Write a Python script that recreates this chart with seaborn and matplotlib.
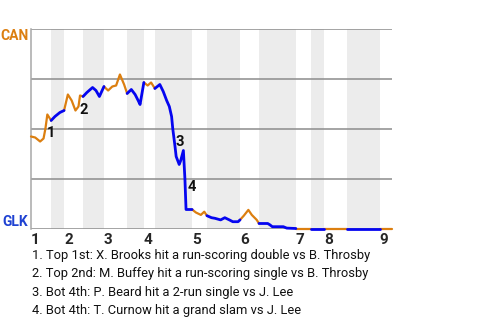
import matplotlib
matplotlib.use("Agg")
import matplotlib.pyplot as plt
import pandas as pd
import seaborn as sns

# ---------------- data ----------------
# x unit = plate appearances (event index); start of every half-inning
half_starts = [0.0, 5.3, 8.7, 13.7, 19.2, 25.3, 29.7, 32.6, 42.4, 46.3,
               55.0, 60.0, 69.7, 73.7, 77.1, 83.2, 91.8]
game_end = 95.0
inning_labels = ["1", "2", "3", "4", "5", "6", "7", "8", "9"]

# CAN win probability (1 = CAN, 0 = GLK) after each event
pa = [0.0, 1.1, 2.4, 3.3, 3.8, 4.3, 5.3,
      6.3, 7.6, 8.7,
      9.7, 10.7, 11.7, 12.5, 12.9, 13.7,
      14.7, 16.2, 17.1, 18.0, 19.2,
      20.3, 21.4, 22.4, 23.4, 24.5, 25.3,
      26.4, 27.4, 28.2, 28.7, 29.7,
      30.7, 31.6, 32.6,
      33.9, 34.8, 35.7, 36.4, 37.0, 37.3, 37.9, 38.2, 39.0, 39.4, 40.1, 40.5, 40.8, 42.4,
      43.4, 44.7, 45.6, 46.3,
      47.5, 48.4, 49.9, 51.0, 52.2, 53.1, 54.5, 55.0,
      56.0, 57.2, 58.1, 59.4, 60.0,
      62.3, 62.9, 63.5, 66.4, 67.3, 69.7,
      73.7, 77.1, 83.2, 91.8, 95.0]
wp = [0.46, 0.455, 0.435, 0.45, 0.50, 0.57, 0.54,
      0.56, 0.58, 0.59,
      0.67, 0.64, 0.59, 0.61, 0.665, 0.66,
      0.68, 0.705, 0.69, 0.66, 0.71,
      0.69, 0.71, 0.715, 0.77, 0.72, 0.675,
      0.695, 0.67, 0.64, 0.62, 0.73,
      0.715, 0.73, 0.70,
      0.72, 0.685, 0.64, 0.61, 0.56, 0.50, 0.41, 0.36, 0.32, 0.34, 0.39, 0.25, 0.095, 0.095,
      0.08, 0.068, 0.084, 0.064,
      0.054, 0.051, 0.043, 0.054, 0.043, 0.034, 0.034, 0.043,
      0.064, 0.093, 0.068, 0.043, 0.025,
      0.025, 0.018, 0.009, 0.009, 0.002, 0.0,
      0.0, 0.0, 0.0, 0.0, 0.0]

event_ids = ["1", "2", "3", "4"]
event_x = [5.3, 13.9, 39.2, 42.3]
event_y = [0.4775, 0.595, 0.435, 0.2075]
event_text = [
    "1. Top 1st: X. Brooks hit a run-scoring double vs B. Throsby",
    "2. Top 2nd: M. Buffey hit a run-scoring single vs B. Throsby",
    "3. Bot 4th: P. Beard hit a 2-run single vs J. Lee",
    "4. Bot 4th: T. Curnow hit a grand slam vs J. Lee",
]

ORANGE = "#dc7f10"
BLUE = "#0505f0"
BAND = "#ececec"
GRID = "#8c8c8c"

# ---------------- build table ----------------
bounds = half_starts + [game_end]
rows = []
for i in range(len(half_starts)):
    s, e = bounds[i], bounds[i + 1]
    for x, y in zip(pa, wp):
        if s - 1e-6 <= x <= e + 1e-6:
            rows.append(dict(x=x, wp=y, half=i,
                             team="CAN" if i % 2 == 0 else "GLK"))
df = pd.DataFrame(rows)

# ---------------- figure ----------------
sns.set_style("white")
plt.rcParams["font.family"] = ["Roboto", "DejaVu Sans"]

fig = plt.figure(figsize=(4.8, 3.2), dpi=100)
ax = fig.add_axes([31 / 480, 1 - 228.5 / 320, 361 / 480, 200 / 320])

for i in range(1, len(half_starts), 2):
    ax.axvspan(bounds[i], bounds[i + 1], color=BAND, lw=0, zorder=0)

sns.lineplot(data=df[df.team == "CAN"], x="x", y="wp", units="half",
             estimator=None, sort=False, color=ORANGE, lw=1.6, ax=ax,
             legend=False, zorder=3)
sns.lineplot(data=df[df.team == "GLK"], x="x", y="wp", units="half",
             estimator=None, sort=False, color=BLUE, lw=2.0, ax=ax,
             legend=False, zorder=3)
for ln in ax.lines:
    ln.set_clip_on(False)

ax.set_xlim(0, game_end)
ax.set_ylim(0, 1)

ax.set_yticks([0, 0.25, 0.5, 0.75, 1.0], ["GLK", "", "", "", "CAN"])
ax.grid(axis="y", color=GRID, lw=1.1, zorder=1)
ax.grid(axis="x", visible=False)
ax.set_axisbelow(True)
ytl = ax.get_yticklabels()
ytl[0].set_color("#1f42d2")
ytl[0].set_va("bottom")
ytl[-1].set_color(ORANGE)
ytl[-1].set_va("top")
for t in ytl:
    t.set_fontweight("bold")
    t.set_fontsize(10)

ax.set_xticks(half_starts[0::2], inning_labels)
for t in ax.get_xticklabels():
    t.set_ha("left")
    t.set_fontweight("bold")
    t.set_fontsize(11)
ax.tick_params(axis="both", length=0)
ax.tick_params(axis="x", pad=3)
ax.tick_params(axis="y", pad=2)
ax.set_xlabel("")
ax.set_ylabel("")

for sp in ["top", "right", "bottom"]:
    ax.spines[sp].set_visible(False)
ax.spines["left"].set_color("#a8a8a8")
ax.spines["left"].set_linewidth(1.1)

for lbl, x, y in zip(event_ids, event_x, event_y):
    ax.text(x, y, lbl, ha="center", va="center", fontsize=10.5,
            fontweight="bold", color="#111111", zorder=5)

for k, txt in enumerate(event_text):
    fig.text(32 / 480, 1 - (259 + 18.3 * k) / 320, txt, ha="left",
             va="baseline", fontsize=9.3, color="#111111")

fig.savefig("out.png", dpi=100)
